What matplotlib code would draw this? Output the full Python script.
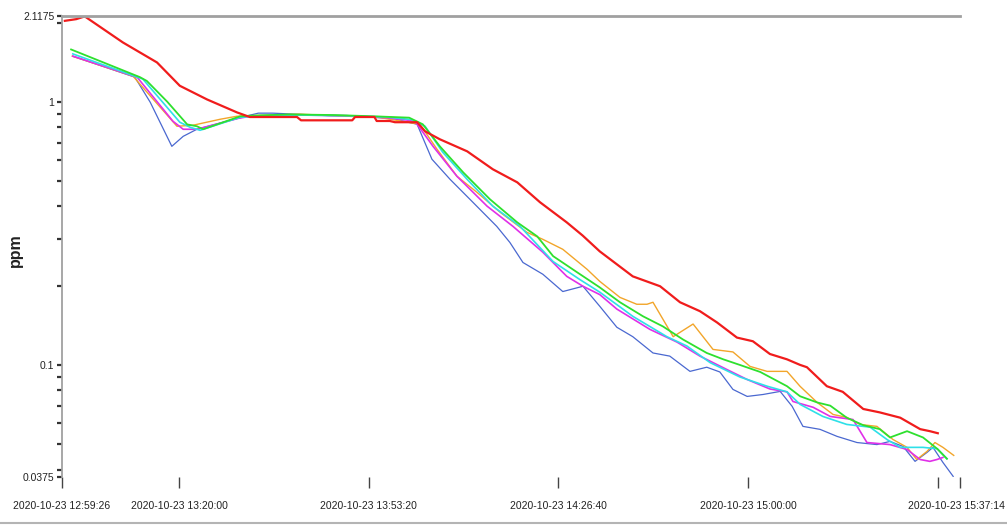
import matplotlib
matplotlib.use("Agg")
import matplotlib.pyplot as plt
from matplotlib.lines import Line2D
from matplotlib.transforms import ScaledTranslation
import pandas as pd

plt.rcParams['font.family'] = ['Liberation Sans', 'DejaVu Sans']

START = pd.Timestamp("2020-10-23 12:59:26")
END = pd.Timestamp("2020-10-23 15:37:14")

# sample times are minutes after START, readings in ppm
red_t = [0.5, 2.5, 4.0, 10.7, 16.7, 20.7, 25.5, 30.8, 33.0, 41.3, 42.0, 51.0, 51.5, 54.9, 55.3,
         57.6, 58.5, 62.4, 63.8, 66.4, 71.2, 75.7, 80.0, 84.0, 88.7, 91.5, 94.5, 100.3, 105.1,
         108.6, 112.1, 115.1, 118.6, 121.4, 124.4, 127.4, 129.7, 130.9, 134.4, 137.2, 140.8,
         143.7, 147.3, 150.8, 152.5, 153.9]
red_v = [2.03, 2.06, 2.11, 1.68, 1.41, 1.15, 1.02, 0.91, 0.875, 0.875, 0.85, 0.85, 0.875, 0.875,
         0.845, 0.845, 0.836, 0.836, 0.772, 0.72, 0.648, 0.554, 0.494, 0.415, 0.348, 0.31, 0.27,
         0.217, 0.199, 0.173, 0.160, 0.145, 0.127, 0.123, 0.110, 0.105, 0.100, 0.098, 0.083,
         0.079, 0.068, 0.066, 0.063, 0.057, 0.056, 0.055]

green_t = [1.6, 13.7, 14.9, 18.5, 22.0, 23.7, 24.8, 31.3, 33.0, 40.0, 48.0, 55.0, 61.0, 63.4,
           66.4, 70.5, 75.2, 80.0, 83.5, 86.3, 90.5, 94.5, 98.05, 102.1, 105.6, 109.1, 113.3,
           116.2, 119.1, 122.7, 127.4, 129.7, 132.7, 135.0, 137.9, 140.8, 143.7, 145.5, 148.5,
           151.3, 153.8, 155.5]
green_v = [1.58, 1.24, 1.20, 1.00, 0.82, 0.807, 0.786, 0.88, 0.885, 0.895, 0.89, 0.88, 0.87,
           0.821, 0.677, 0.539, 0.426, 0.348, 0.308, 0.259, 0.225, 0.197, 0.173, 0.153, 0.140,
           0.125, 0.111, 0.105, 0.100, 0.094, 0.083, 0.076, 0.072, 0.070, 0.063, 0.059, 0.057,
           0.053, 0.056, 0.053, 0.048, 0.044]

cyan_t = [1.9, 14.2, 20.7, 22.5, 24.25, 31.3, 34.8, 42.0, 50.0, 57.0, 61.5, 63.8, 66.9, 71.2,
          75.7, 80.5, 86.3, 91.0, 94.5, 100.3, 106.3, 109.8, 113.9, 119.1, 123.9, 127.4, 129.7,
          133.7, 137.9, 142.0, 145.0, 147.3, 151.3, 153.8, 155.5]
cyan_v = [1.52, 1.22, 0.836, 0.80, 0.779, 0.873, 0.885, 0.89, 0.885, 0.875, 0.855, 0.807, 0.643,
          0.507, 0.401, 0.336, 0.247, 0.211, 0.189, 0.153, 0.128, 0.118, 0.102, 0.090, 0.083,
          0.079, 0.0708, 0.0637, 0.0594, 0.058, 0.052, 0.0486, 0.0486, 0.048, 0.044]

magenta_t = [1.9, 13.2, 19.5, 21.3, 23.7, 31.0, 33.0, 42.0, 50.0, 57.0, 62.0, 65.2, 69.4, 74.7,
             79.25, 84.5, 88.7, 91.55, 94.5, 97.5, 103.3, 108.1, 112.1, 116.85, 120.4, 124.4,
             127.4, 128.45, 132.0, 135.0, 139.0, 141.45, 145.5, 148.5, 150.8, 152.5, 153.75, 154.8]
magenta_v = [1.49, 1.24, 0.843, 0.786, 0.786, 0.865, 0.88, 0.89, 0.885, 0.87, 0.845, 0.677, 0.521,
             0.401, 0.336, 0.268, 0.217, 0.199, 0.185, 0.163, 0.1365, 0.122, 0.108, 0.096, 0.088,
             0.081, 0.079, 0.0726, 0.069, 0.0637, 0.062, 0.0507, 0.0498, 0.0477, 0.0437, 0.043,
             0.0437, 0.0445]

orange_t = [1.8, 12.5, 13.7, 20.2, 23.0, 27.8, 30.75, 33.0, 41.8, 48.0, 56.0, 62.9, 65.9, 69.4,
            72.9, 77.0, 81.7, 84.5, 88.0, 92.25, 94.5, 98.05, 101.0, 102.8, 103.85, 107.4, 110.9,
            114.4, 117.9, 120.9, 123.9, 127.4, 129.7, 132.7, 135.5, 137.9, 140.2, 143.2, 146.0,
            148.5, 150.2, 152.0, 153.4, 154.8, 156.7]
orange_v = [1.49, 1.25, 1.166, 0.807, 0.814, 0.858, 0.881, 0.885, 0.897, 0.885, 0.87, 0.821, 0.660,
            0.521, 0.453, 0.380, 0.319, 0.300, 0.275, 0.231, 0.2077, 0.1805, 0.170, 0.170, 0.173,
            0.128, 0.143, 0.1145, 0.112, 0.0987, 0.0945, 0.0945, 0.0829, 0.072, 0.0648, 0.0632,
            0.0594, 0.0584, 0.0521, 0.0486, 0.0437, 0.0469, 0.0507, 0.0486, 0.0453]

blue_t = [1.9, 12.8, 15.5, 19.3, 21.3, 23.7, 29.0, 33.0, 34.5, 37.0, 47.0, 53.0, 58.5, 62.4, 65.0,
          68.2, 72.2, 76.4, 78.7, 81.0, 84.5, 88.0, 91.55, 94.5, 97.5, 100.3, 103.85, 106.8,
          110.35, 113.3, 115.6, 117.9, 120.4, 123.2, 126.2, 128.3, 130.2, 133.2, 136.2, 139.7,
          143.2, 145.5, 147.8, 149.9, 152.0, 153.05, 154.8, 156.6]
blue_v = [1.49, 1.24, 0.996, 0.677, 0.739, 0.786, 0.843, 0.889, 0.905, 0.905, 0.885, 0.88, 0.86,
          0.821, 0.605, 0.507, 0.415, 0.336, 0.292, 0.245, 0.221, 0.190, 0.199, 0.167, 0.139,
          0.128, 0.111, 0.108, 0.0945, 0.098, 0.094, 0.0807, 0.0759, 0.0772, 0.0793, 0.0696,
          0.0584, 0.0569, 0.0535, 0.0507, 0.0498, 0.0512, 0.049, 0.043, 0.0465, 0.0486, 0.0426,
          0.0377]

tick_times = ["2020-10-23 12:59:26", "2020-10-23 13:20:00", "2020-10-23 13:53:20",
              "2020-10-23 14:26:40", "2020-10-23 15:00:00", "2020-10-23 15:33:20",
              "2020-10-23 15:37:14"]
tick_labels = ["2020-10-23 12:59:26", "2020-10-23 13:20:00", "2020-10-23 13:53:20",
               "2020-10-23 14:26:40", "2020-10-23 15:00:00", "", "2020-10-23 15:37:14"]

y_major = [0.0375, 0.1, 1, 2.1175]
y_major_labels = ["0.0375", "0.1", "1", "2.1175"]
y_minor = [0.04, 0.05, 0.06, 0.07, 0.08, 0.09, 0.2, 0.3, 0.4, 0.5, 0.6, 0.7, 0.8, 0.9, 2]

# drawing order: last one ends up on top
series = [
    (blue_t, blue_v, '#4a68d0', 0.9),
    (orange_t, orange_v, '#f2a52a', 1.0),
    (magenta_t, magenta_v, '#e030e8', 1.2),
    (cyan_t, cyan_v, '#2ee0e8', 1.2),
    (green_t, green_v, '#2ee02e', 1.3),
    (red_t, red_v, '#f01c1c', 1.6),
]


def to_time(minutes):
    return (START + pd.to_timedelta(minutes, unit='min')).to_numpy()


fig = plt.figure(figsize=(10.07, 5.26), dpi=100)
ax = fig.add_axes([62 / 1007, 1 - 477 / 526, (960 - 62) / 1007, (477 - 16) / 526])

for t, v, color, lw in series:
    ax.plot(to_time(t), v, color=color, lw=lw, solid_joinstyle='round')

ax.set_yscale('log')
ax.set_ylim(0.0375, 2.1175)
ax.set_xlim(START.to_numpy(), END.to_numpy())

ax.set_yticks(y_major)
ax.set_yticklabels(y_major_labels)
ax.set_yticks(y_minor, minor=True)
ax.set_yticklabels([], minor=True)
ax.tick_params(axis='y', which='both', direction='out', length=3.5, width=1.6,
               color='#333333', pad=2, labelsize=7.5, labelcolor='#222222')

ax.set_xticks(pd.to_datetime(tick_times).to_numpy())
ax.set_xticklabels(tick_labels)
ax.tick_params(axis='x', which='major', direction='out', length=8, width=1.0,
               color='#444444', pad=9, labelsize=7.5, labelcolor='#222222')

# the last date label sits a little left of its tick so it stays inside the figure
last = ax.get_xticklabels()[-1]
last.set_transform(last.get_transform() + ScaledTranslation(-4 / 100, 0, fig.dpi_scale_trans))

for side in ('right', 'bottom'):
    ax.spines[side].set_visible(False)
ax.spines['left'].set_color('#a0a0a0')
ax.spines['left'].set_linewidth(1.3)
ax.spines['top'].set_color('#a0a0a0')
ax.spines['top'].set_linewidth(2.0)

fig.text(15 / 1007, 1 - 250 / 526, 'ppm', rotation=90, ha='center', va='center',
         fontsize=11.5, fontweight='bold', color='#222222')

# frame line along the bottom edge
fig.add_artist(Line2D([0, 1], [1 - 523 / 526, 1 - 523 / 526], transform=fig.transFigure,
                      color='#b4b4b4', lw=1.5))

fig.savefig('out.png', dpi=100)
